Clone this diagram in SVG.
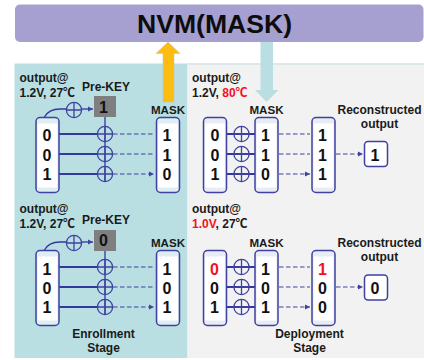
<svg xmlns="http://www.w3.org/2000/svg" width="424" height="360" viewBox="0 0 424 360">
<style>
text{font-family:"Liberation Sans","Noto Sans CJK SC",sans-serif;font-weight:bold;fill:#1a1a1a}
.l{font-size:12px}.m{font-size:11.6px;text-anchor:middle}.r{font-size:12px;text-anchor:middle}
.d{font-size:16px;text-anchor:middle;fill:#111}.red{fill:#f5101f}
.box{fill:#fff;stroke:#3f42a0;stroke-width:1.5}
.sol{fill:none;stroke:#33389c;stroke-width:2}
.thin{fill:none;stroke:#33389c;stroke-width:1.3}
.dash{fill:none;stroke:#3f42a0;stroke-width:1.2;stroke-dasharray:4.5 2.5;marker-end:url(#ah)}
.x{fill:none;stroke:#3f42a0;stroke-width:1.3}
</style>
<defs>
<marker id="ah" markerUnits="userSpaceOnUse" markerWidth="6" markerHeight="6" refX="5" refY="3" orient="auto"><path d="M0 0.4L5 3L0 5.6Z" fill="#3f42a0"/></marker>
<g id="xor"><circle r="7.6" class="x"/><path d="M-7.6 0H7.6M0-7.6V7.6" class="x"/></g>
<g id="col"><rect x="0" y="0" width="23" height="75" rx="4" fill="#dfeef2" stroke="#3f42a0" stroke-width="1.5"/><rect x="1.7" y="6" width="19.6" height="64" fill="#fff"/></g>
<g id="colr"><rect x="0" y="0" width="23" height="75" rx="4" fill="#e9ecf4" stroke="#3f42a0" stroke-width="1.5"/><rect x="1.7" y="6" width="19.6" height="64" fill="#fff"/></g>
</defs>

<g id="left-panel"><rect x="14.5" y="63.5" width="173" height="294.500" fill="#b9dfe3"/></g>
<g id="right-panel"><rect x="187.5" y="63.5" width="236.5" height="294.500" fill="#f2f2f2"/><path d="M187.5 64H424" stroke="#d6e3e3" stroke-width="1.5"/></g>
<g id="nvm"><rect x="15" y="4.5" width="408.500" height="37.500" rx="5" fill="#a5a0cf"/><text x="214.500" y="33" font-size="26.600" text-anchor="middle" style="fill:#0d0d0d">NVM(MASK)</text></g>

<g id="connectors">
<path d="M168 42L180 53.500H174V102H163V53.500H156Z" fill="#fdbc11" stroke="#c3c9a8" stroke-width=".6"/>
<path d="M260.500 42H273V90H278.500L266.500 102L255 90H260.500Z" fill="#b9dfe3"/>

<path d="M44 117.500C47 112 53 109 60 109H66" class="thin"/><path d="M82 109H93" class="thin" marker-end="url(#ah)"/>
<path d="M105 117V182" class="thin"/>
<path d="M59 134H97M59 154H97M59 174H97" class="sol"/>
<path d="M113 134H154M113 154H154M113 174H154" class="dash"/>

<path d="M44 250.500C47 245 53 242 60 242H67" class="thin"/><path d="M82 242H93" class="thin" marker-end="url(#ah)"/>
<path d="M105 250V315" class="thin"/>
<path d="M59 267H97M59 287H97M59 307H97" class="sol"/>
<path d="M113 267H154M113 287H154M113 307H154" class="dash"/>

<path d="M226.500 134H255M226.500 154H255M226.500 174H255" class="sol"/>
<path d="M279 134H310M279 154H310M279 174H310" class="dash"/>
<path d="M336 154H363" class="dash"/>

<path d="M226.500 267H255M226.500 287H255M226.500 307H255" class="sol"/>
<path d="M279 267H310M279 287H310M279 307H310" class="dash"/>
<path d="M336 287H363" class="dash"/>
</g>

<g id="enroll-top">
<text class="l" x="19.500" y="82">output@</text><text class="l" x="19.500" y="97">1.2V, 27℃</text>
<text class="l" x="82" y="91">Pre-KEY</text>
<rect x="94" y="96" width="22" height="21" fill="#7f7f7f"/><text class="d" x="103.500" y="112.500">1</text>
<use href="#xor" x="74" y="110"/>
<use href="#col" x="36" y="117.500"/><text class="d" x="47" y="141">0</text><text class="d" x="47" y="161">0</text><text class="d" x="47" y="180">1</text>
<use href="#xor" x="105" y="134"/><use href="#xor" x="105" y="154"/><use href="#xor" x="105" y="174"/>
<text class="m" x="168" y="114">MASK</text>
<use href="#col" x="156.500" y="117.500"/><text class="d" x="167" y="141">1</text><text class="d" x="167" y="161">1</text><text class="d" x="167" y="180">0</text>
</g>

<g id="enroll-bottom">
<text class="l" x="19.500" y="213">output@</text><text class="l" x="19.500" y="228">1.2V, 27℃</text>
<text class="l" x="82" y="224">Pre-KEY</text>
<rect x="94" y="230" width="22" height="21" fill="#7f7f7f"/><text class="d" x="103.500" y="246">0</text>
<use href="#xor" x="74" y="243"/>
<use href="#col" x="36" y="250.500"/><text class="d" x="47" y="275">1</text><text class="d" x="47" y="294">0</text><text class="d" x="47" y="313">1</text>
<use href="#xor" x="105" y="267"/><use href="#xor" x="105" y="287"/><use href="#xor" x="105" y="307"/>
<text class="m" x="168" y="247">MASK</text>
<use href="#col" x="156.500" y="250.500"/><text class="d" x="167" y="275">1</text><text class="d" x="167" y="294">0</text><text class="d" x="167" y="313">1</text>
<text class="r" x="103.500" y="338">Enrollment</text><text class="r" x="103.500" y="352">Stage</text>
</g>

<g id="deploy-top">
<text class="l" x="192" y="82">output@</text><text class="l" x="192" y="97">1.2V, <tspan class="red">80℃</tspan></text>
<use href="#colr" x="203.500" y="117.500"/><text class="d" x="215" y="141">0</text><text class="d" x="215" y="161">0</text><text class="d" x="215" y="180">1</text>
<use href="#xor" x="241.500" y="134"/><use href="#xor" x="241.500" y="154"/><use href="#xor" x="241.500" y="174"/>
<text class="m" x="266.500" y="114">MASK</text>
<use href="#colr" x="255" y="117.500"/><text class="d" x="265.500" y="141">1</text><text class="d" x="265.500" y="161">1</text><text class="d" x="265.500" y="180">0</text>
<use href="#colr" x="312" y="117.500"/><text class="d" x="322.500" y="141">1</text><text class="d" x="322.500" y="161">1</text><text class="d" x="322.500" y="180">1</text>
<text class="r" x="379.500" y="114">Reconstructed</text><text class="r" x="379.500" y="128">output</text>
<rect x="364.500" y="141.500" width="23" height="25" rx="3.500" class="box"/><text class="d" x="375" y="161">1</text>
</g>

<g id="deploy-bottom">
<text class="l" x="192" y="213">output@</text><text class="l" x="192" y="228"><tspan class="red">1.0V</tspan>, 27℃</text>
<use href="#colr" x="203.500" y="250.500"/><text class="d red" x="214.500" y="275">0</text><text class="d" x="214.500" y="294">0</text><text class="d" x="214.500" y="313">1</text>
<use href="#xor" x="241.500" y="267"/><use href="#xor" x="241.500" y="287"/><use href="#xor" x="241.500" y="307"/>
<text class="m" x="266.500" y="247">MASK</text>
<use href="#colr" x="255" y="250.500"/><text class="d" x="265.500" y="275">1</text><text class="d" x="265.500" y="294">0</text><text class="d" x="265.500" y="313">1</text>
<use href="#colr" x="312" y="250.500"/><text class="d red" x="322.500" y="275">1</text><text class="d" x="322.500" y="294">0</text><text class="d" x="322.500" y="313">0</text>
<text class="r" x="379.500" y="247">Reconstructed</text><text class="r" x="379.500" y="261">output</text>
<rect x="364.500" y="275" width="23" height="25" rx="3.500" class="box"/><text class="d" x="375" y="294">0</text>
<text class="r" x="309.500" y="338">Deployment</text><text class="r" x="309.500" y="352">Stage</text>
</g>
</svg>
